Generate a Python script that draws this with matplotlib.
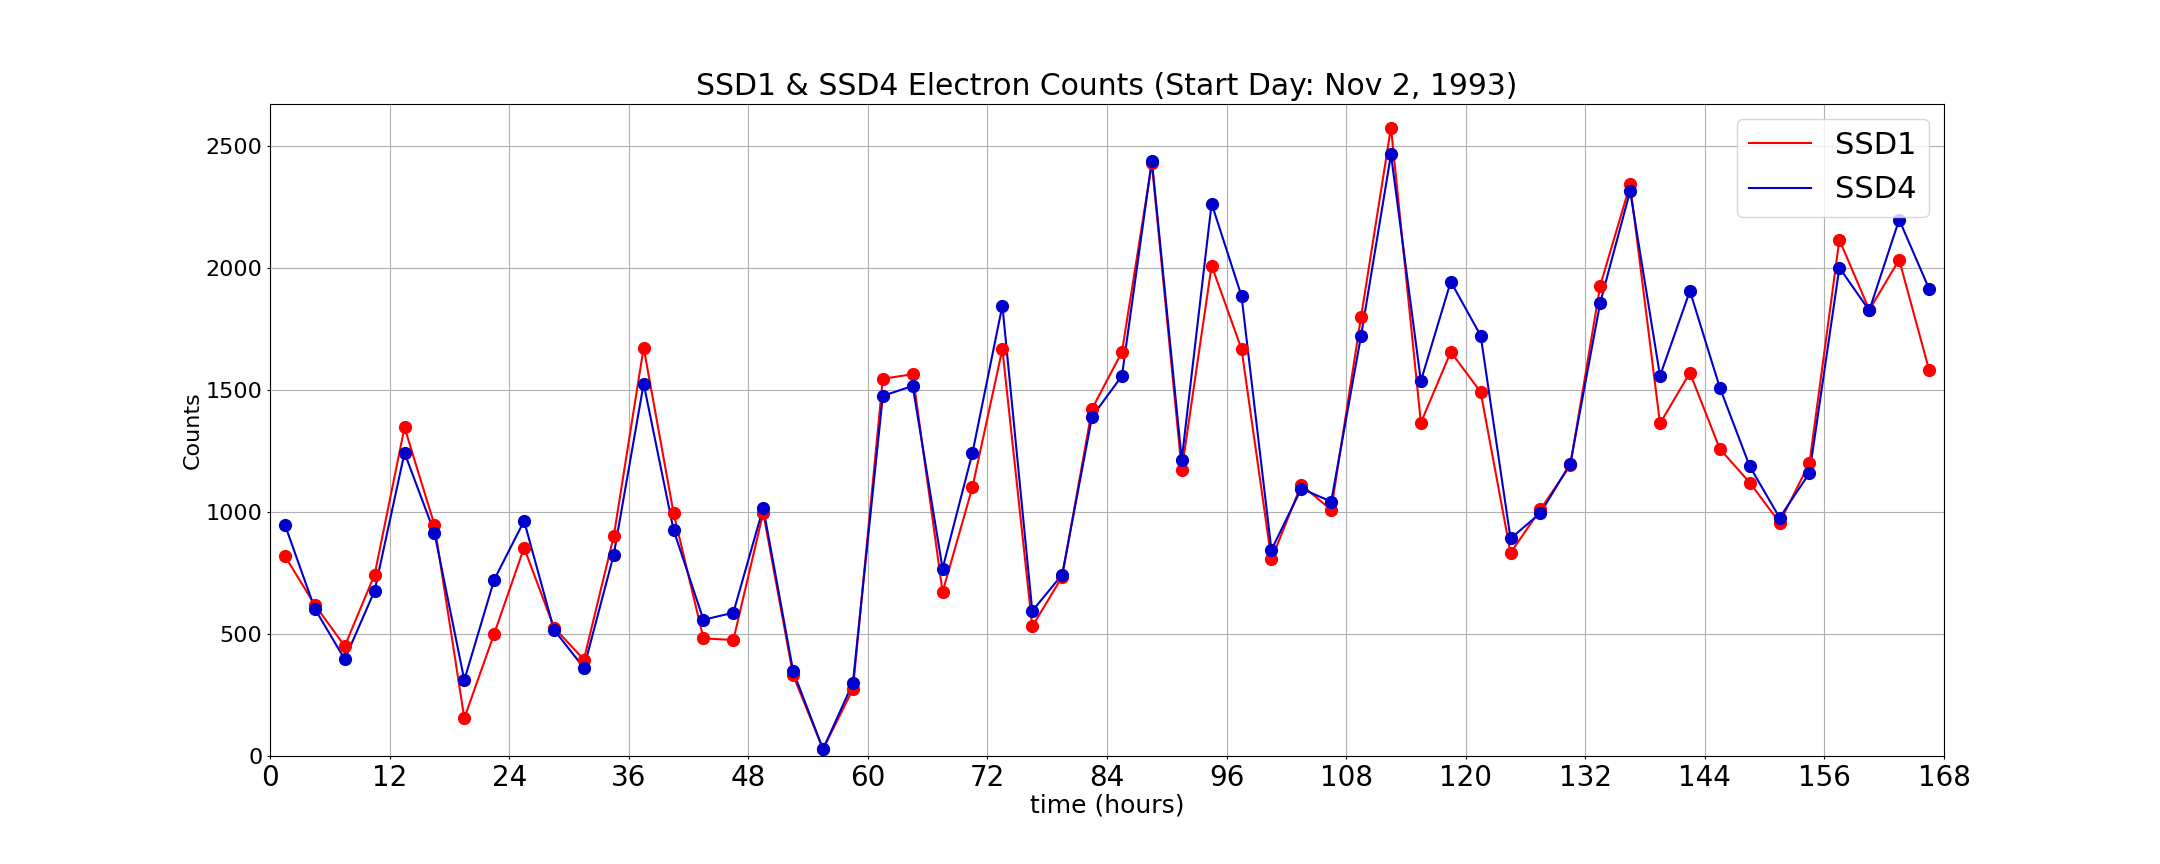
import numpy as np
import matplotlib
matplotlib.use("Agg")
import matplotlib.pyplot as plt

# hours (midpoint of each 3 h bin)
hours = np.arange(1.5, 168, 3)

ssd1 = [819, 619, 450, 743, 1346, 947, 155, 501, 853, 526, 395, 901, 1673, 995,
        482, 475, 997, 331, 28, 274, 1545, 1564, 672, 1102, 1667, 531, 734, 1422,
        1655, 2428, 1171, 2009, 1667, 805, 1111, 1008, 1799, 2574, 1365, 1655, 1491,
        832, 1010, 1191, 1927, 2341, 1362, 1570, 1258, 1120, 956, 1200, 2115, 1827,
        2033, 1582]
ssd4 = [947, 603, 396, 677, 1242, 915, 311, 722, 963, 517, 361, 825, 1525, 926,
        558, 587, 1017, 348, 28, 299, 1475, 1516, 768, 1242, 1845, 594, 743, 1390,
        1557, 2439, 1214, 2263, 1884, 844, 1095, 1042, 1722, 2464, 1536, 1943, 1722,
        891, 995, 1198, 1857, 2314, 1557, 1905, 1509, 1187, 976, 1159, 2000, 1825,
        2197, 1914]

fig = plt.figure(figsize=(21.6, 8.64), dpi=100)
ax = fig.add_subplot(111)
fig.subplots_adjust(left=0.125, right=0.9, bottom=0.125, top=0.88)

ax.plot(hours, ssd1, color='red', lw=1.5, label='SSD1')
ax.plot(hours, ssd4, color='mediumblue', lw=1.5, label='SSD4')
ax.plot(hours, ssd1, 'o', color='red', ms=8.5)
ax.plot(hours, ssd4, 'o', color='mediumblue', ms=8.5)

ax.set_xlim(0, 168)
ax.set_ylim(0, 2672)
ax.set_xticks(np.arange(0, 169, 12))
ax.tick_params(axis='x', labelsize=20, length=2)
ax.tick_params(axis='y', labelsize=16, length=2)
ax.grid(True)

ax.set_title("SSD1 & SSD4 Electron Counts (Start Day: Nov 2, 1993)", fontsize=21.5)
ax.set_xlabel("time (hours)", fontsize=18, labelpad=1)
ax.set_ylabel("Counts", fontsize=16, labelpad=2)
ax.legend(loc='upper right', fontsize=22)

fig.savefig("out.png", dpi=100)
